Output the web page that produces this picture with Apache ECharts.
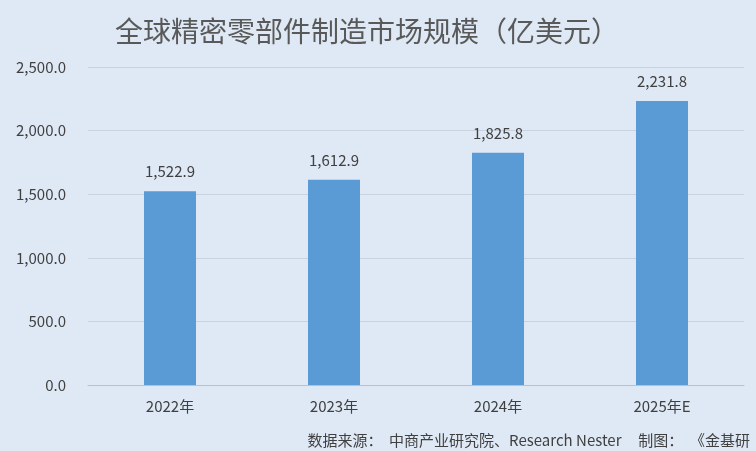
<!DOCTYPE html>
<html><head><meta charset="utf-8">
<script src="https://cdn.jsdelivr.net/npm/echarts@6/dist/echarts.min.js"></script>
<style>html,body{margin:0;padding:0;background:#dfe9f5;}#c{width:756px;height:451px;}</style>
</head><body><div id="c"></div>
<script>
const categories = ['2022年','2023年','2024年','2025年E'];
const values = [1522.9,1612.9,1825.8,2231.8];
const yTicks = [0,500,1000,1500,2000,2500];
const fmt = v => v.toLocaleString('en-US',{minimumFractionDigits:1,maximumFractionDigits:1});
const chart = echarts.init(document.getElementById('c'));
chart.setOption({
  backgroundColor:'#dfe9f5',
  textStyle:{fontFamily:'"Noto Sans CJK SC", sans-serif'},
  title:{text:'全球精密零部件制造市场规模（亿美元）',left:110,top:12,
    textStyle:{fontSize:28,fontWeight:'normal',color:'#595959',fontFamily:'"Noto Sans CJK SC"'}},
  graphic:[{type:'text',right:6,bottom:3,style:{text:'数据来源：  中商产业研究院、Research Nester     制图：  《金基研',
    fontSize:15,fill:'#404040',fontFamily:'"Noto Sans CJK SC"'}}],
  grid:{left:88,right:12,top:67,bottom:66},
  xAxis:{type:'category',data:categories,axisTick:{show:false},
    axisLine:{lineStyle:{color:'#bfbfbf'}},
    axisLabel:{color:'#404040',fontSize:15,margin:14}},
  yAxis:{type:'value',min:0,max:2500,interval:500,
    axisLabel:{color:'#404040',fontSize:15,formatter:v=>fmt(v),margin:22},
    splitLine:{lineStyle:{color:'#c9d3de'}},axisLine:{show:false},axisTick:{show:false}},
  series:[{type:'bar',data:values,barWidth:52,itemStyle:{color:'#5b9bd5'},
    label:{show:true,position:'top',distance:12,color:'#404040',fontSize:15,formatter:p=>fmt(p.value)}}]
});
</script></body></html>
